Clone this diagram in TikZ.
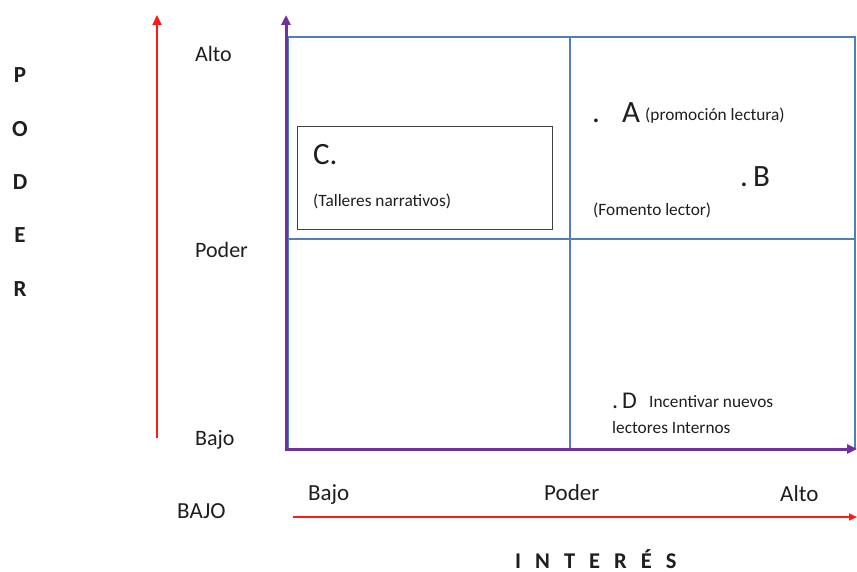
\documentclass[tikz,border=0pt]{standalone}
\usepackage{fontspec}
\setmainfont{Carlito}
\usetikzlibrary{arrows.meta}
\definecolor{axred}{HTML}{FF1A1A}
\definecolor{axpurple}{HTML}{7030A0}
\definecolor{gridblue}{HTML}{4F7FB5}
\definecolor{txt}{HTML}{1E1E1E}
\begin{document}
\begin{tikzpicture}[x=1pt,y=-1pt,
  lbl/.style={anchor=base west,inner sep=0pt,text=txt,font=\fontsize{22}{24}\selectfont},
  blbl/.style={anchor=base west,inner sep=0pt,text=txt,font=\fontsize{23}{25}\selectfont},
  vlet/.style={anchor=base,inner sep=0pt,text=txt,font=\fontsize{23}{25}\selectfont\bfseries},
  big/.style={anchor=base west,inner sep=0pt,text=txt,font=\fontsize{31}{33}\selectfont},
  small/.style={anchor=base west,inner sep=0pt,text=txt,font=\fontsize{17.3}{19}\selectfont},
  tipred/.style={-{Triangle[width=9pt,length=10pt]}},
]
\useasboundingbox (0,0) rectangle (857,572);
% coordinates
\coordinate (rv0) at (157,438);
\coordinate (rv1) at (157,15);
\coordinate (pv0) at (286,450.5);
\coordinate (pv1) at (286,15);
\coordinate (ph0) at (285,449);
\coordinate (ph1) at (857,449);
\coordinate (rh0) at (293,517);
\coordinate (rh1) at (857,517);
% grid
\draw[gridblue,line width=1.8pt] (288,37) rectangle (855,449);
\draw[gridblue,line width=1.8pt] (570,37) -- (570,449);
\draw[gridblue,line width=1.8pt] (288,239) -- (855,239);
% box C
\node[draw=txt!85,line width=0.9pt,minimum width=255pt,minimum height=103pt,inner sep=0pt] (boxC) at (424.5,177.5) {};
% axes
\draw[axred,line width=2.2pt,tipred] (rv0) -- (rv1);
\draw[axpurple,line width=3pt,tipred] (pv0) -- (pv1);
\draw[axpurple,line width=3pt,tipred] (ph0) -- (ph1);
\draw[axred,line width=1.6pt,-{Triangle[width=7pt,length=8pt]}] (rh0) -- (rh1);
% left labels
\node[lbl] (alto) at (195,62) {Alto};
\node[lbl] (poder) at (195,258) {Poder};
\node[lbl] (bajo) at (195,445) {Bajo};
\node[vlet] (lp) at (20,83) {P};
\node[vlet] (lo) at (20,137) {O};
\node[vlet] (ld) at (20,190) {D};
\node[vlet] (le) at (20,243) {E};
\node[vlet] (lr) at (20,296) {R};
% bottom labels
\node[blbl] (bbajo) at (308,500) {Bajo};
\node[blbl] (bpoder) at (544,500) {Poder};
\node[blbl] (balto) at (780,501) {Alto};
\node[blbl] (bBAJO) at (177,518) {BAJO};
\node[anchor=base west,inner sep=0pt,text=txt,font=\fontsize{22.5}{24}\selectfont\bfseries] (interes) at (515,568) {I\hspace{14pt}N\hspace{14pt}T\hspace{14pt}E\hspace{14pt}R\hspace{14pt}É\hspace{14pt}S};
% quadrant texts
\node[big] (C) at (313,165) {C.};
\node[small] (Ct) at (313,207) {(Talleres narrativos)};
\node[big] (Adot) at (592,123) {.};
\node[big] (A) at (622,123) {A};
\node[small] (At) at (645,121) {(promoción lectura)};
\node[big] (B) at (740,187) {.\,B};
\node[small] (Bt) at (593,216) {(Fomento lector)};
\node[anchor=base west,inner sep=0pt,text=txt,font=\fontsize{24}{26}\selectfont] (D) at (612,408) {.\,D};
\node[small] (Dt) at (649,407) {Incentivar nuevos};
\node[small] (Dt2) at (612,433) {lectores Internos};
\end{tikzpicture}
\end{document}
